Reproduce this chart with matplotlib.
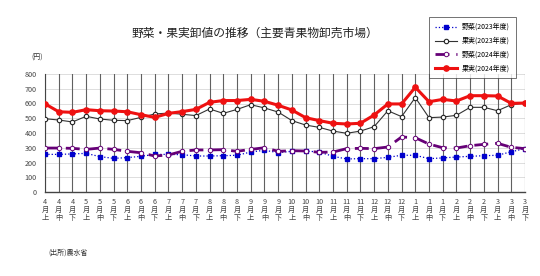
import matplotlib
matplotlib.use('Agg')
import matplotlib.pyplot as plt

plt.rcParams['font.family'] = ['Noto Sans CJK JP', 'DejaVu Sans']

# 旬ごとのラベル（4月上〜3月下）
months = [4, 5, 6, 7, 8, 9, 10, 11, 12, 1, 2, 3]
periods = ['上', '中', '下']
tick_labels = [f'{m}\n月\n{p}' for m in months for p in periods]

# 卸値（円/kg）
veg_2023 = [255, 255, 258, 262, 240, 228, 233, 242, 255, 255, 253, 244,
            244, 246, 249, 271, 283, 267, 276, 278, 271, 242, 224, 226,
            226, 235, 249, 249, 226, 231, 237, 242, 246, 249, 273, 294]
fruit_2023 = [497, 488, 475, 513, 495, 486, 484, 506, 529, 535, 527, 518,
              563, 533, 560, 592, 570, 542, 484, 454, 438, 413, 398, 413,
              443, 551, 511, 640, 504, 508, 520, 574, 574, 551, 592, 603]
veg_2024 = [298, 298, 296, 289, 298, 289, 276, 266, 244, 251, 276, 285,
            285, 287, 276, 289, 300, 276, 280, 278, 269, 271, 294, 296,
            294, 305, 373, 368, 325, 300, 298, 314, 323, 330, 303, 294]
fruit_2024 = [598, 544, 540, 558, 551, 549, 544, 524, 506, 533, 545, 560,
              608, 620, 620, 628, 615, 588, 556, 504, 484, 466, 461, 466,
              522, 597, 597, 710, 612, 628, 617, 653, 653, 651, 601, 603]

x = list(range(len(tick_labels)))

fig = plt.figure(figsize=(5.4, 2.76), dpi=100)
ax = fig.add_axes([45 / 540, 1 - 192 / 276, 480 / 540, 118 / 276])

ax.plot(x, veg_2023, color='#0000cc', linestyle=':', linewidth=0.9,
        marker='s', markersize=3.0, markerfacecolor='#0000cc', markeredgecolor='#0000cc',
        label='野菜(2023年度)', zorder=3)
ax.plot(x, fruit_2023, color='#333333', linestyle='-', linewidth=0.8,
        marker='o', markersize=3.2, markerfacecolor='white', markeredgecolor='#222222',
        markeredgewidth=0.8, label='果実(2023年度)', zorder=3)
ax.plot(x, veg_2024, color='#660077', linestyle=(0, (5, 2.5)), linewidth=2.0,
        marker='o', markersize=3.2, markerfacecolor='white', markeredgecolor='#660077',
        markeredgewidth=0.7, label='野菜(2024年度)', zorder=4)
ax.plot(x, fruit_2024, color='#ee1111', linestyle='-', linewidth=2.2,
        marker='o', markersize=3.8, markerfacecolor='#ee1111', markeredgecolor='#ee1111',
        label='果実(2024年度)', zorder=5)

ax.set_xlim(0, 35)
ax.set_ylim(0, 800)
ax.set_yticks(range(0, 801, 100))
ax.set_xticks(x)
ax.set_xticklabels(tick_labels, fontsize=5.2, linespacing=1.0, color='#444444')
ax.tick_params(axis='y', labelsize=5.2, labelcolor='#444444', length=0, pad=6)
ax.tick_params(axis='x', length=0, pad=4)

# 縦線は濃いグレー、横線は薄いグレー
for xi in x:
    ax.axvline(xi, color='#606060', linewidth=0.8, zorder=1)
for yv in range(100, 801, 100):
    ax.axhline(yv, color='#d8d8d8', linewidth=0.6, zorder=0)

for side in ['top', 'right']:
    ax.spines[side].set_visible(False)
ax.spines['left'].set_color('#444444')
ax.spines['bottom'].set_color('#444444')
ax.spines['bottom'].set_linewidth(1.0)

fig.text(255 / 540, 1 - 33 / 276, '野菜・果実卸値の推移（主要青果物卸売市場）',
         ha='center', va='center', fontsize=8.5, color='#222222')
fig.text(37 / 540, 1 - 58 / 276, '(円)', ha='center', va='center', fontsize=5, color='#333333')
fig.text(48 / 540, 1 - 253 / 276, '(出所)農水省', ha='left', va='center', fontsize=5, color='#333333')

leg = fig.legend(loc='upper left', bbox_to_anchor=(426 / 540, 1 - 14 / 276),
                 fontsize=5.0, frameon=True, fancybox=False, edgecolor='#333333',
                 handlelength=3.2, labelspacing=0.85, borderpad=0.8, handletextpad=0.7)
leg.get_frame().set_linewidth(0.6)

fig.savefig('out.png', dpi=100, facecolor='white')
